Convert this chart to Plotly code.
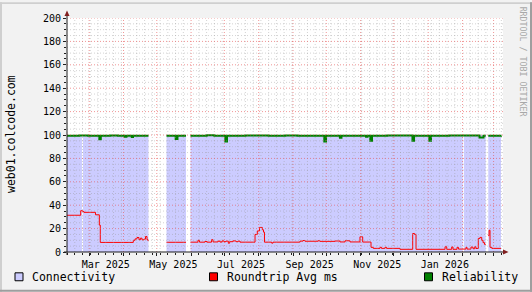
import plotly.graph_objects as go
import pandas as pd

# ---------------- data ----------------
x_start = "2025-02-09 00:00"
x_end = "2026-03-09 12:00"

conn_start = ["2025-02-09 00:00", "2025-02-23 10:00", "2025-05-09 19:00",
              "2025-05-31 11:00", "2026-02-02 05:00", "2026-02-24 05:00"]
conn_end = ["2025-02-22 12:00", "2025-04-23 13:00", "2025-05-27 10:00",
            "2026-02-01 05:00", "2026-02-21 22:00", "2026-03-07 17:00"]
conn_level = [100, 100, 100, 100, 100, 100]

rt_time = [
    "2025-02-09 00:00", "2025-02-21 09:00", "2025-02-23 04:00", "2025-02-24 08:00",
    "2025-03-06 17:00", "2025-03-10 04:00", "2025-03-11 01:00", "2025-04-09 20:00",
    "2025-04-11 10:00", "2025-04-13 04:00", "2025-04-14 23:00", "2025-04-16 07:00",
    "2025-04-17 17:00", "2025-04-19 12:00", "2025-04-20 20:00", "2025-04-22 05:00",
    "2025-04-23 04:00", "2025-04-23 13:00", "2025-04-23 13:00",
    "2025-05-09 19:00", "2025-05-27 10:00", "2025-05-27 10:00",
    "2025-05-31 11:00", "2025-06-07 05:00", "2025-06-08 14:00", "2025-06-13 12:00",
    "2025-06-15 09:00", "2025-06-19 10:00", "2025-06-20 19:00", "2025-06-25 07:00",
    "2025-06-27 02:00", "2025-06-28 22:00", "2025-06-30 17:00", "2025-07-02 12:00",
    "2025-07-04 14:00", "2025-07-05 17:00", "2025-07-08 20:00", "2025-07-11 12:00",
    "2025-07-13 07:00", "2025-07-15 03:00", "2025-07-28 17:00", "2025-07-30 18:00",
    "2025-08-01 17:00", "2025-08-04 07:00", "2025-08-05 08:00", "2025-08-06 05:00",
    "2025-08-12 17:00", "2025-08-13 22:00", "2025-09-07 07:00", "2025-09-10 00:00",
    "2025-09-11 19:00", "2025-09-23 12:00", "2025-09-25 07:00", "2025-10-08 22:00",
    "2025-10-13 09:00", "2025-10-17 22:00", "2025-10-22 10:00", "2025-10-31 10:00",
    "2025-11-02 21:00", "2025-11-10 09:00", "2025-11-12 10:00", "2025-11-18 12:00",
    "2025-11-19 20:00", "2025-11-23 00:00", "2025-11-24 09:00", "2025-12-06 12:00",
    "2025-12-18 00:00", "2025-12-19 15:00", "2025-12-21 00:00", "2026-01-16 05:00",
    "2026-01-17 17:00", "2026-01-22 05:00", "2026-01-23 09:00", "2026-01-27 00:00",
    "2026-01-28 07:00", "2026-02-04 02:00", "2026-02-05 00:00", "2026-02-08 14:00",
    "2026-02-10 10:00", "2026-02-12 00:00", "2026-02-13 02:00", "2026-02-15 05:00",
    "2026-02-16 17:00", "2026-02-18 07:00", "2026-02-19 12:00", "2026-02-20 19:00",
    "2026-02-21 22:00", "2026-02-21 22:00",
    "2026-02-24 05:00", "2026-02-24 22:00", "2026-02-25 19:00", "2026-02-27 10:00",
    "2026-03-07 17:00",
]
rt_ms = [
    31.4, 35.3, 34.5, 33.9,
    31.8, 23.0, 8.2, 10.0,
    11.2, 12.4, 10.5, 11.8,
    10.4, 11.0, 13.2, 10.5,
    9.6, 9.6, None,
    8.3, 8.3, None,
    8.4, 10.0, 8.4, 9.0,
    8.4, 10.5, 8.6, 9.3,
    8.5, 9.5, 8.8, 9.3,
    7.5, 8.8, 9.5, 8.8,
    9.3, 8.4, 15.0, 18.0,
    21.0, 19.0, 17.0, 8.4,
    7.6, 8.4, 9.3, 9.8,
    9.2, 9.6, 9.1, 9.4,
    8.6, 9.6, 8.6, 13.0,
    8.5, 4.0, 3.1, 4.0,
    3.1, 4.0, 3.1, 2.3,
    15.8, 15.0, 2.3, 4.5,
    2.3, 4.3, 2.3, 4.0,
    2.5, 4.0, 2.5, 4.2,
    2.8, 4.5, 3.0, 11.6,
    12.5, 10.0, 8.0, 6.5,
    6.5, None,
    14.0, 18.6, 4.0, 3.1,
    3.1,
]

rel_time = [
    "2025-02-09 00:00", "2025-02-20 00:00", "2025-02-28 00:00", "2025-03-10 04:00",
    "2025-03-11 12:00", "2025-03-20 00:00", "2025-03-27 00:00", "2025-04-02 07:00",
    "2025-04-03 17:00", "2025-04-08 10:00", "2025-04-09 14:00", "2025-04-23 13:00",
    "2025-04-23 13:00",
    "2025-05-09 19:00", "2025-05-18 02:00", "2025-05-19 17:00", "2025-05-27 10:00",
    "2025-05-27 10:00",
    "2025-05-31 11:00", "2025-06-15 00:00", "2025-06-22 00:00", "2025-07-01 22:00",
    "2025-07-03 10:00", "2025-07-20 00:00", "2025-08-10 00:00", "2025-08-25 00:00",
    "2025-09-05 00:00", "2025-09-29 05:00", "2025-09-30 19:00", "2025-10-13 09:00",
    "2025-10-14 17:00", "2025-11-05 22:00", "2025-11-07 05:00", "2025-11-09 17:00",
    "2025-11-11 07:00", "2025-11-25 00:00", "2025-12-17 19:00", "2025-12-19 05:00",
    "2026-01-02 00:00", "2026-01-03 12:00", "2026-01-20 00:00", "2026-02-16 07:00",
    "2026-02-19 22:00", "2026-02-21 22:00", "2026-02-21 22:00",
    "2026-02-24 05:00", "2026-03-07 17:00",
]
rel_pct = [
    99.4, 99.6, 99.3, 96.4,
    99.4, 99.6, 99.3, 98.5,
    99.4, 98.2, 99.4, 99.4,
    None,
    99.4, 96.5, 99.4, 99.4,
    None,
    99.4, 99.7, 99.3, 94.5,
    99.4, 99.6, 99.3, 99.6,
    99.3, 94.5, 99.4, 97.6,
    99.4, 98.4, 99.4, 95.0,
    99.4, 99.6, 95.0, 99.4,
    95.0, 99.4, 99.6, 97.8,
    99.4, 99.4, None,
    99.4, 99.6,
]

label_at = ["2025-03-16", "2025-05-16", "2025-07-16", "2025-09-16", "2025-11-16", "2026-01-16"]
label_text = ["Mar 2025", "May 2025", "Jul 2025", "Sep 2025", "Nov 2025", "Jan 2026"]

series_names = ["Connectivity", "Roundtrip Avg ms", "Reliability"]
series_colors = ["#ccccff", "#ff0000", "#008000"]
host_label = "web01.colcode.com"
watermark = "RRDTOOL / TOBI OETIKER"

# ---------------- layout geometry ----------------
W, H = 532, 292
L, R, T, B = 67, 503, 16, 252
FONT = "DejaVu Sans Mono"


def xp(px):
    return (px - L) / (R - L)


def yp(py):
    return (B - py) / (B - T)


fig = go.Figure()
# connectivity: one filled area per uninterrupted stretch
for s, e, v in zip(conn_start, conn_end, conn_level):
    fig.add_trace(go.Scatter(x=[s, e], y=[v, v], mode="lines", line=dict(width=0, shape="hv"),
                             fill="tozeroy", fillcolor=series_colors[0],
                             name=series_names[0], hoverinfo="skip"))
fig.add_trace(go.Scatter(x=rt_time, y=rt_ms, mode="lines",
                         line=dict(width=1, shape="hv", color=series_colors[1]),
                         connectgaps=False, name=series_names[1], hoverinfo="skip"))
fig.add_trace(go.Scatter(x=rel_time, y=rel_pct, mode="lines",
                         line=dict(width=2, shape="hv", color=series_colors[2]),
                         connectgaps=False, name=series_names[2], hoverinfo="skip"))
# invisible trace to carry the label axis
fig.add_trace(go.Scatter(x=[x_start, x_end], y=[None, None], xaxis="x2", yaxis="y",
                         showlegend=False, hoverinfo="skip"))

MINOR = "rgba(150,150,150,0.42)"
MAJOR = "rgba(230,80,80,0.6)"
AXIS = "#1f1f1f"
ARROW = "#801f1f"
DASH = "1px,2px"

shapes = []
weeks = pd.date_range(x_start, x_end, freq="W-SUN")
months = pd.date_range("2025-03-01", x_end, freq="MS")
month_set = set(months)
for d in weeks:
    if d in month_set or d == pd.Timestamp(x_start):
        continue
    shapes.append(dict(type="line", xref="x", yref="paper", x0=d, x1=d, y0=0, y1=1,
                       line=dict(color=MINOR, width=1, dash=DASH), layer="above"))
for d in months:
    shapes.append(dict(type="line", xref="x", yref="paper", x0=d, x1=d, y0=0, y1=1,
                       line=dict(color=MAJOR, width=1, dash=DASH), layer="above"))
for v in range(5, 201, 5):
    col = MAJOR if v % 20 == 0 else MINOR
    shapes.append(dict(type="line", xref="paper", yref="y", x0=0, x1=1, y0=v, y1=v,
                       line=dict(color=col, width=1, dash=DASH), layer="above"))

# axes lines with arrows
shapes.append(dict(type="line", xref="paper", yref="paper", x0=xp(67), x1=xp(67),
                   y0=yp(255), y1=yp(12), line=dict(color=AXIS, width=1), layer="above"))
shapes.append(dict(type="line", xref="paper", yref="paper", x0=xp(64), x1=xp(504),
                   y0=yp(252), y1=yp(252), line=dict(color=AXIS, width=1), layer="above"))
shapes.append(dict(type="path", xref="paper", yref="paper",
                   path=f"M {xp(64.5)} {yp(14)} L {xp(69.5)} {yp(14)} L {xp(67)} {yp(8.5)} Z",
                   fillcolor=ARROW, line=dict(width=0), layer="above"))
shapes.append(dict(type="path", xref="paper", yref="paper",
                   path=f"M {xp(503)} {yp(249.5)} L {xp(503)} {yp(254.5)} L {xp(508.5)} {yp(252)} Z",
                   fillcolor=ARROW, line=dict(width=0), layer="above"))

# border shades
shapes.append(dict(type="rect", xref="paper", yref="paper", x0=xp(0), x1=xp(W),
                   y0=yp(0), y1=yp(2), fillcolor="#cfcfcf", line=dict(width=0), layer="above"))
shapes.append(dict(type="rect", xref="paper", yref="paper", x0=xp(0), x1=xp(2),
                   y0=yp(0), y1=yp(H), fillcolor="#cfcfcf", line=dict(width=0), layer="above"))
shapes.append(dict(type="rect", xref="paper", yref="paper", x0=xp(W - 2), x1=xp(W),
                   y0=yp(0), y1=yp(H), fillcolor="#9e9e9e", line=dict(width=0), layer="above"))
shapes.append(dict(type="rect", xref="paper", yref="paper", x0=xp(0), x1=xp(W),
                   y0=yp(H - 2), y1=yp(H), fillcolor="#9e9e9e", line=dict(width=0), layer="above"))

# legend boxes + text
leg_box_x = [15, 209.5, 424.5]
annotations = []
for bx, name, col in zip(leg_box_x, series_names, series_colors):
    shapes.append(dict(type="rect", xref="paper", yref="paper", x0=xp(bx), x1=xp(bx + 8),
                       y0=yp(281), y1=yp(273), fillcolor=col,
                       line=dict(color="#000000", width=1), layer="above"))
    annotations.append(dict(xref="paper", yref="paper", x=xp(bx + 15), y=yp(277),
                            xanchor="left", yanchor="middle", text=name, showarrow=False,
                            font=dict(family=FONT, size=11.5, color="#000000")))

annotations.append(dict(xref="paper", yref="paper", x=xp(11), y=yp(133), text=host_label,
                        textangle=-90, showarrow=False, xanchor="center", yanchor="middle",
                        font=dict(family=FONT, size=11.5, color="#000000")))
annotations.append(dict(xref="paper", yref="paper", x=xp(523), y=yp(60), text=watermark,
                        textangle=90, showarrow=False, xanchor="center", yanchor="middle",
                        font=dict(family=FONT, size=8.3, color="#a8a8a8")))

fig.update_layout(
    width=W, height=H,
    margin=dict(l=L, r=W - R, t=T, b=H - B, pad=0),
    paper_bgcolor="#f2f2f2", plot_bgcolor="#ffffff",
    showlegend=False,
    xaxis=dict(type="date", range=[x_start, x_end], showgrid=False, zeroline=False,
               showline=False, showticklabels=False,
               tickvals=list(months), ticks="outside", ticklen=3, tickcolor=AXIS,
               minor=dict(tickvals=list(weeks), ticks="outside", ticklen=2, tickcolor=AXIS,
                          showgrid=False)),
    xaxis2=dict(type="date", range=[x_start, x_end], overlaying="x", anchor="y", side="bottom",
                showgrid=False, zeroline=False, showline=False,
                tickvals=label_at, ticktext=label_text, ticks="outside", ticklen=3,
                tickcolor="rgba(0,0,0,0)",
                tickfont=dict(family=FONT, size=10, color="#000000")),
    yaxis=dict(range=[0, 200], showgrid=False, zeroline=False, showline=False,
               tick0=0, dtick=20, ticks="outside", ticklen=3, tickcolor=AXIS,
               minor=dict(dtick=5, ticks="outside", ticklen=2, tickcolor=AXIS, showgrid=False),
               tickfont=dict(family=FONT, size=10, color="#000000")),
    shapes=shapes,
    annotations=annotations,
)

fig.write_html("out.html")
